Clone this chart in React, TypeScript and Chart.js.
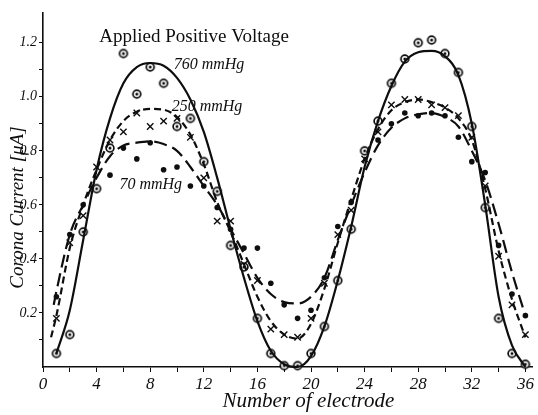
import React, { useEffect, useRef } from "react";
import { Chart, registerables } from "chart.js";

Chart.register(...registerables);

// Electrode numbers (x values of measured points)
const electrodes = [
  1, 2, 3, 4, 5, 6, 7, 8, 9, 10, 11, 12, 13, 14, 15, 16, 17, 18,
  19, 20, 21, 22, 23, 24, 25, 26, 27, 28, 29, 30, 31, 32, 33, 34, 35, 36,
];

// Measured corona current [uA] per electrode
const current760 = [
  0.05, 0.12, 0.5, 0.66, 0.81, 1.16, 1.01, 1.11, 1.05, 0.89, 0.92, 0.76,
  0.65, 0.45, 0.37, 0.18, 0.05, 0.005, 0.005, 0.05, 0.15, 0.32, 0.51, 0.8,
  0.91, 1.05, 1.14, 1.2, 1.21, 1.16, 1.09, 0.89, 0.59, 0.18, 0.05, 0.01,
];
const current250 = [
  0.18, 0.46, 0.56, 0.74, 0.84, 0.87, 0.94, 0.89, 0.91, 0.92, 0.85, 0.7,
  0.54, 0.54, 0.38, 0.32, 0.14, 0.12, 0.11, 0.18, 0.31, 0.49, 0.58, 0.77,
  0.87, 0.97, 0.99, 0.99, 0.97, 0.96, 0.93, 0.85, 0.67, 0.41, 0.23, 0.12,
];
const current70 = [
  0.26, 0.49, 0.6, null, 0.71, 0.81, 0.77, 0.83, 0.73, 0.74, 0.67, 0.67,
  0.59, 0.51, 0.44, 0.44, 0.31, 0.23, 0.18, 0.21, 0.33, 0.52, 0.61, null,
  0.84, 0.9, 0.94, 0.93, 0.94, 0.93, 0.85, 0.76, 0.72, 0.45, 0.27, 0.19,
];

// Hand-drawn fitted curves
const fitX760 = [
  1, 2, 3, 4, 5, 6, 7, 8, 9, 10, 11, 12, 13, 14, 15, 16, 17, 18,
  19, 20, 21, 22, 23, 24, 25, 26, 27, 28, 29, 30, 31, 32, 33, 34, 35, 36,
];
const fit760 = [
  0.05, 0.21, 0.47, 0.73, 0.92, 1.05, 1.11, 1.125, 1.115, 1.07, 0.99, 0.87,
  0.7, 0.51, 0.33, 0.17, 0.06, 0.01, 0.0, 0.04, 0.15, 0.32, 0.52, 0.74,
  0.91, 1.04, 1.13, 1.165, 1.17, 1.15, 1.08, 0.9, 0.6, 0.26, 0.08, 0.0,
];
const fitX250 = [
  0.6, 1, 2, 3, 4, 5, 6, 7, 8, 9, 10, 11, 12, 13, 14, 15, 16, 17, 18,
  19, 20, 21, 22, 23, 24, 25, 26, 27, 28, 29, 30, 31, 32, 33, 34, 35, 36,
];
const fit250 = [
  0.11, 0.19, 0.44, 0.6, 0.73, 0.84, 0.91, 0.945, 0.955, 0.952, 0.925, 0.86,
  0.75, 0.61, 0.5, 0.38, 0.26, 0.17, 0.12, 0.105, 0.16, 0.29, 0.46, 0.62,
  0.77, 0.88, 0.95, 0.98, 0.99, 0.98, 0.96, 0.92, 0.84, 0.66, 0.43, 0.25, 0.11,
];
const fitX70 = [
  0.8, 1, 2, 3, 4, 5, 6, 7, 8, 9, 10, 11, 12, 13, 14, 15, 16, 17, 18,
  19, 20, 21, 22, 23, 24, 25, 26, 27, 28, 29, 30, 31, 32, 33, 34, 35, 36,
];
const fit70 = [
  0.23, 0.28, 0.49, 0.6, 0.7, 0.78, 0.82, 0.83, 0.835, 0.825, 0.8, 0.74,
  0.67, 0.6, 0.51, 0.42, 0.33, 0.27, 0.24, 0.235, 0.26, 0.33, 0.47, 0.6,
  0.72, 0.82, 0.885, 0.92, 0.935, 0.94, 0.925, 0.89, 0.8, 0.69, 0.53, 0.35, 0.19,
];

// Axis ticks
const xTickValues = [0, 2, 4, 6, 8, 10, 12, 14, 16, 18, 20, 22, 24, 26, 28, 30, 32, 34, 36];
const xTickLabels = ["0", "", "4", "", "8", "", "12", "", "16", "", "20", "", "24", "", "28", "", "32", "", "36"];
const yTickValues = [0.1, 0.2, 0.3, 0.4, 0.5, 0.6, 0.7, 0.8, 0.9, 1.0, 1.1, 1.2];
const yTickLabels = ["", "0.2", "", "0.4", "", "0.6", "", "0.8", "", "1.0", "", "1.2"];

const seriesNames = ["760 mmHg", "250 mmHg", "70 mmHg"];
const chartTitle = "Applied Positive Voltage";
const xTitle = "Number of electrode";
const yTitle = "Corona Current [\u03bcA]";

const INK = "#0e0e0e";
const HAND = '"Liberation Serif", "DejaVu Serif", serif';

function toPoints(xs: number[], ys: (number | null)[]) {
  const out: { x: number; y: number }[] = [];
  xs.forEach((x, i) => {
    const y = ys[i];
    if (y !== null && y !== undefined) out.push({ x, y });
  });
  return out;
}

function makeDotCircle(): HTMLCanvasElement {
  const c = document.createElement("canvas");
  c.width = 12;
  c.height = 12;
  const ctx = c.getContext("2d")!;
  ctx.fillStyle = "#fff";
  ctx.strokeStyle = INK;
  ctx.lineWidth = 1.7;
  ctx.beginPath();
  ctx.arc(6, 6, 3.9, 0, Math.PI * 2);
  ctx.fill();
  ctx.stroke();
  ctx.fillStyle = INK;
  ctx.beginPath();
  ctx.arc(6, 6, 1.5, 0, Math.PI * 2);
  ctx.fill();
  return c;
}

const textPlugin = {
  id: "handText",
  afterDraw(chart: any) {
    const { ctx, scales } = chart;
    const xs = scales.x;
    const ys = scales.y;
    ctx.save();
    ctx.fillStyle = INK;
    ctx.textBaseline = "middle";
    ctx.textAlign = "left";
    ctx.font = `19px ${HAND}`;
    ctx.fillText(chartTitle, xs.getPixelForValue(4.2), ys.getPixelForValue(1.222));
    ctx.font = `italic 16px ${HAND}`;
    ctx.fillText(seriesNames[0], xs.getPixelForValue(9.75), ys.getPixelForValue(1.118));
    ctx.fillText(seriesNames[1], xs.getPixelForValue(9.6), ys.getPixelForValue(0.963));
    ctx.fillText(seriesNames[2], xs.getPixelForValue(5.7), ys.getPixelForValue(0.674));
    // axis titles
    ctx.textAlign = "center";
    ctx.font = `italic 21px ${HAND}`;
    ctx.fillText(xTitle, xs.getPixelForValue(19.8), chart.height - 14);
    ctx.translate(18, ys.getPixelForValue(0.59));
    ctx.rotate(-Math.PI / 2);
    ctx.font = `italic 19px ${HAND}`;
    ctx.fillText(yTitle, 0, 0);
    ctx.restore();
  },
};

export default function App() {
  const ref = useRef<HTMLCanvasElement | null>(null);

  useEffect(() => {
    if (!ref.current) return;
    const dotCircle = makeDotCircle();
    const chart = new Chart(ref.current, {
      type: "scatter",
      data: {
        datasets: [
          {
            label: seriesNames[0] + " curve",
            data: toPoints(fitX760, fit760),
            showLine: true,
            borderColor: INK,
            borderWidth: 2.2,
            pointRadius: 0,
            cubicInterpolationMode: "monotone",
            clip: false,
          },
          {
            label: seriesNames[1] + " curve",
            data: toPoints(fitX250, fit250),
            showLine: true,
            borderColor: INK,
            borderWidth: 2.2,
            borderDash: [7, 4],
            pointRadius: 0,
            cubicInterpolationMode: "monotone",
            clip: false,
          },
          {
            label: seriesNames[2] + " curve",
            data: toPoints(fitX70, fit70),
            showLine: true,
            borderColor: INK,
            borderWidth: 2.2,
            borderDash: [13, 6],
            pointRadius: 0,
            cubicInterpolationMode: "monotone",
            clip: false,
          },
          {
            label: seriesNames[0],
            data: toPoints(electrodes, current760),
            pointStyle: dotCircle as any,
            pointRadius: 4,
            showLine: false,
            clip: false,
          },
          {
            label: seriesNames[1],
            data: toPoints(electrodes, current250),
            pointStyle: "crossRot",
            pointRadius: 4.5,
            borderColor: INK,
            borderWidth: 1.4,
            showLine: false,
            clip: false,
          },
          {
            label: seriesNames[2],
            data: toPoints(electrodes, current70),
            pointStyle: "circle",
            pointRadius: 2.8,
            backgroundColor: INK,
            borderColor: INK,
            borderWidth: 0,
            showLine: false,
            clip: false,
          },
        ] as any,
      },
      options: {
        animation: false,
        responsive: false,
        events: [],
        layout: { padding: { top: 13, right: 0, left: 0, bottom: 0 } },
        plugins: {
          legend: { display: false },
          tooltip: { enabled: false },
          title: { display: false },
        },
        scales: {
          x: {
            type: "linear",
            min: 0,
            max: 36.5,
            afterBuildTicks: (scale: any) => {
              scale.ticks = xTickValues.map((v) => ({ value: v }));
            },
            afterFit: (scale: any) => {
              scale.height = 48;
            },
            ticks: {
              autoSkip: false,
              maxRotation: 0,
              padding: 2,
              color: INK,
              font: { family: HAND, size: 17, style: "italic" },
              callback: (value: any) => {
                const i = xTickValues.indexOf(Number(value));
                return i >= 0 ? xTickLabels[i] : "";
              },
            },
            grid: {
              display: true,
              drawOnChartArea: false,
              drawTicks: true,
              tickLength: 5,
              color: INK,
              lineWidth: 1,
            },
            border: { display: true, color: INK, width: 1.6 },
          },
          y: {
            type: "linear",
            min: 0,
            max: 1.31,
            afterBuildTicks: (scale: any) => {
              scale.ticks = yTickValues.map((v) => ({ value: v }));
            },
            afterFit: (scale: any) => {
              scale.width = 43;
            },
            ticks: {
              autoSkip: false,
              padding: 2,
              color: INK,
              font: { family: HAND, size: 14, style: "italic" },
              callback: (value: any) => {
                const i = yTickValues.findIndex((v) => Math.abs(v - Number(value)) < 1e-6);
                return i >= 0 ? yTickLabels[i] : "";
              },
            },
            grid: {
              display: true,
              drawOnChartArea: false,
              drawTicks: true,
              tickLength: 4,
              color: INK,
              lineWidth: 1,
            },
            border: { display: true, color: INK, width: 1.6 },
          },
        },
      } as any,
      plugins: [textPlugin],
    });
    return () => chart.destroy();
  }, []);

  return (
    <div style={{ position: "absolute", left: 0, top: 0, width: 538, height: 415, background: "#fff" }}>
      <canvas ref={ref} width={538} height={415} style={{ display: "block" }} />
    </div>
  );
}
